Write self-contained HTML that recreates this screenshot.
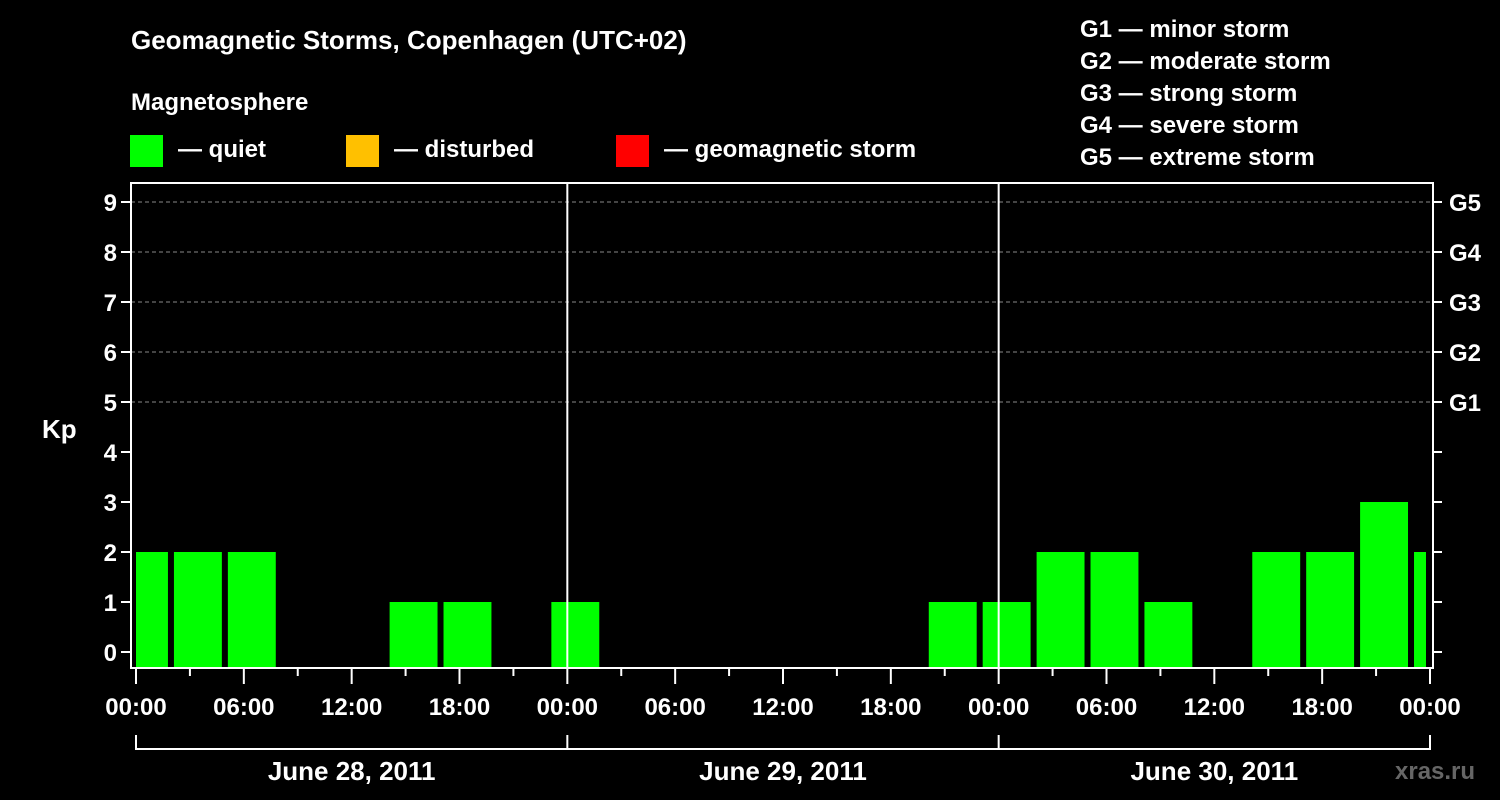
<!DOCTYPE html>
<html><head><meta charset="utf-8"><style>
html,body{margin:0;padding:0;background:#000;}
svg{display:block;font-family:"Liberation Sans",Arial,sans-serif;font-weight:bold;}
</style></head><body>
<svg id="chart" width="1500" height="800" viewBox="0 0 1500 800">
<rect width="1500" height="800" fill="#000"/>
<text x="131" y="49" fill="#fff" font-size="26">Geomagnetic Storms, Copenhagen (UTC+02)</text>
<text x="131" y="110" fill="#fff" font-size="24">Magnetosphere</text>
<g><rect x="130" y="135" width="33" height="32" fill="#00ff00"/><text x="178" y="157" fill="#fff" font-size="24">— quiet</text></g>
<g><rect x="346" y="135" width="33" height="32" fill="#ffc000"/><text x="394" y="157" fill="#fff" font-size="24">— disturbed</text></g>
<g><rect x="616" y="135" width="33" height="32" fill="#ff0000"/><text x="664" y="157" fill="#fff" font-size="24">— geomagnetic storm</text></g>
<g fill="#fff" font-size="24">
<text x="1080" y="37">G1 — minor storm</text>
<text x="1080" y="69">G2 — moderate storm</text>
<text x="1080" y="101">G3 — strong storm</text>
<text x="1080" y="133">G4 — severe storm</text>
<text x="1080" y="165">G5 — extreme storm</text>
</g>
<text x="42" y="438" fill="#fff" font-size="26">Kp</text>
<g id="grid"></g>
<g id="bars"></g>
<g id="axes"></g>
<text x="1395" y="779" fill="#666" font-size="24">xras.ru</text>
</svg>
<script>
const kpValues=[2,2,2,0,0,1,1,0,1,0,0,0,0,0,0,1,1,2,2,1,0,2,2,3,2];
const yTicks=[0,1,2,3,4,5,6,7,8,9];
const gLabels=["G1","G2","G3","G4","G5"];
const xTickLabels=["00:00","06:00","12:00","18:00","00:00","06:00","12:00","18:00","00:00","06:00","12:00","18:00","00:00"];
const dayLabels=["June 28, 2011","June 29, 2011","June 30, 2011"];
const NS="http://www.w3.org/2000/svg";
const L=131,R=1433,T=183,B=668;
const x0=136,pxH=431.33/24;
const xs=h=>x0+h*pxH;
const ys=v=>652-v*50;
function mk(tag,attrs,parent){const e=document.createElementNS(NS,tag);for(const k in attrs)e.setAttribute(k,attrs[k]);parent.appendChild(e);return e;}
const grid=document.getElementById('grid'),bars=document.getElementById('bars'),axes=document.getElementById('axes');
yTicks.forEach(v=>{if(v>=5){const g=mk('line',{x1:L,x2:R,y1:ys(v),y2:ys(v),stroke:'#888','stroke-dasharray':'4,3','stroke-width':1},grid);

}});
// bars: first slot partial (-1h..2h), then 3h slots
kpValues.forEach((v,i)=>{if(v<=0)return;
let s=-1+3*i,e=s+3;s=Math.max(s,0);e=Math.min(e,72);
let a=xs(s)+(i===0?0:2),b=xs(e)-4;
const r=mk('rect',{x:a,y:ys(v),width:b-a,height:667-ys(v),fill:'#00ff00'},bars);

});
// frame
const fr=mk('rect',{x:L,y:T,width:R-L,height:B-T,fill:'none',stroke:'#fff','stroke-width':2},axes);


[24,48].forEach(h=>{const l=mk('line',{x1:xs(h),x2:xs(h),y1:T,y2:B,stroke:'#fff','stroke-width':2},axes);

});
yTicks.forEach(v=>{mk('line',{x1:L-10,x2:L,y1:ys(v),y2:ys(v),stroke:'#fff','stroke-width':2},axes);
mk('line',{x1:R,x2:R+9,y1:ys(v),y2:ys(v),stroke:'#fff','stroke-width':2},axes);
const t=mk('text',{x:L-14,y:ys(v)+9,fill:'#fff','font-size':24,'text-anchor':'end'},axes);t.textContent=v;

});
gLabels.forEach((g,i)=>{const t=mk('text',{x:1449,y:ys(5+i)+9,fill:'#fff','font-size':24},axes);t.textContent=g;

});
for(let h=0;h<=72;h+=3){const major=h%6===0;mk('line',{x1:xs(h),x2:xs(h),y1:B,y2:B+(major?16:8),stroke:'#fff','stroke-width':2},axes);}
xTickLabels.forEach((s,i)=>{const t=mk('text',{x:xs(i*6),y:715,fill:'#fff','font-size':24,'text-anchor':'middle'},axes);t.textContent=s;

});
mk('line',{x1:xs(0),x2:xs(72),y1:749,y2:749,stroke:'#fff','stroke-width':2},axes);
[0,24,48,72].forEach(h=>mk('line',{x1:xs(h),x2:xs(h),y1:735,y2:750,stroke:'#fff','stroke-width':2},axes));
dayLabels.forEach((d,i)=>{const t=mk('text',{x:xs(i*24+12),y:780,fill:'#fff','font-size':26,'text-anchor':'middle'},axes);t.textContent=d;

});
</script>
</body></html>
